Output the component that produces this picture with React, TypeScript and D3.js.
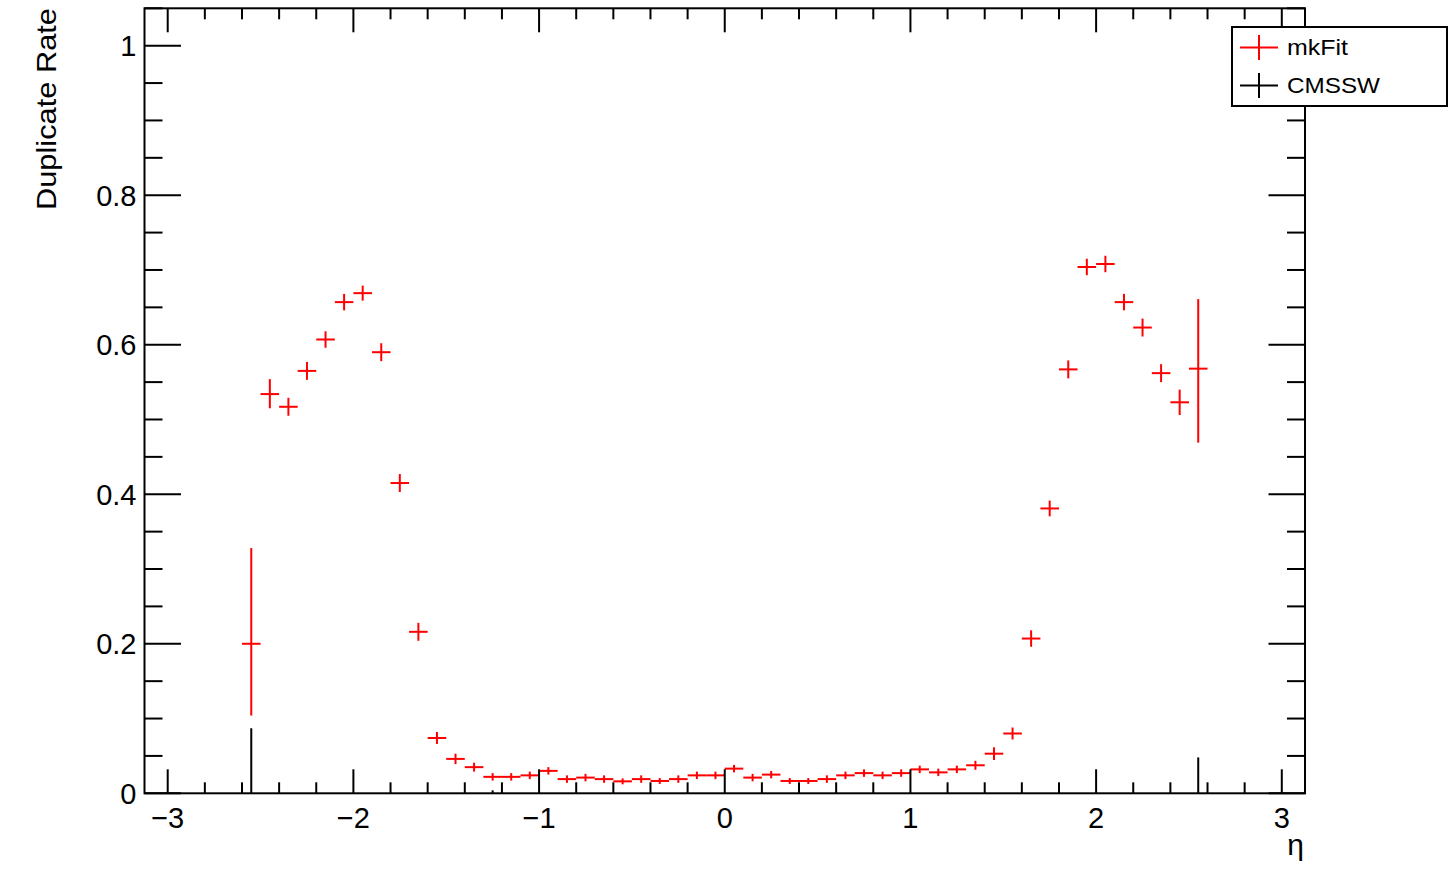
import React from "react";
import * as d3 from "d3";

// ---- data ----
const etaBins = [
  -2.55, -2.45, -2.35, -2.25, -2.15, -2.05, -1.95, -1.85, -1.75, -1.65, -1.55, -1.45, -1.35,
  -1.25, -1.15, -1.05, -0.95, -0.85, -0.75, -0.65, -0.55, -0.45, -0.35, -0.25, -0.15, -0.05,
  0.05, 0.15, 0.25, 0.35, 0.45, 0.55, 0.65, 0.75, 0.85, 0.95, 1.05, 1.15, 1.25, 1.35,
  1.45, 1.55, 1.65, 1.75, 1.85, 1.95, 2.05, 2.15, 2.25, 2.35, 2.45, 2.55,
];
const mkFitRate = [
  0.2, 0.534, 0.517, 0.565, 0.607, 0.657, 0.669, 0.59, 0.415, 0.216, 0.074, 0.046, 0.035,
  0.022, 0.022, 0.024, 0.03, 0.019, 0.021, 0.019, 0.016, 0.019, 0.0165, 0.019, 0.024, 0.024,
  0.033, 0.021, 0.025, 0.0165, 0.0165, 0.019, 0.024, 0.027, 0.024, 0.027, 0.032, 0.028, 0.032, 0.0375,
  0.053, 0.08, 0.207, 0.381, 0.567, 0.704, 0.708, 0.657, 0.623, 0.562, 0.523, 0.568,
];
const mkFitErrLow = [
  0.096, 0.019, 0.012, 0.012, 0.011, 0.011, 0.01, 0.012, 0.012, 0.012, 0.008, 0.007, 0.006,
  0.005, 0.005, 0.005, 0.005, 0.005, 0.005, 0.005, 0.004, 0.005, 0.004, 0.005, 0.005, 0.005,
  0.005, 0.005, 0.005, 0.004, 0.004, 0.005, 0.005, 0.005, 0.005, 0.005, 0.005, 0.005, 0.005, 0.006,
  0.0085, 0.008, 0.011, 0.0105, 0.012, 0.011, 0.011, 0.011, 0.012, 0.012, 0.017, 0.099,
];
const mkFitErrHigh = [
  0.128, 0.02, 0.012, 0.012, 0.011, 0.011, 0.01, 0.012, 0.012, 0.012, 0.008, 0.007, 0.006,
  0.005, 0.005, 0.005, 0.005, 0.005, 0.005, 0.005, 0.004, 0.005, 0.004, 0.005, 0.005, 0.005,
  0.005, 0.005, 0.005, 0.004, 0.004, 0.005, 0.005, 0.005, 0.005, 0.005, 0.005, 0.005, 0.005, 0.006,
  0.0085, 0.008, 0.011, 0.0105, 0.012, 0.011, 0.011, 0.011, 0.012, 0.012, 0.017, 0.093,
];
const cmsswEta = [-2.55, -1.25, 2.55];
const cmsswRate = [0, 0, 0];
const cmsswErrHigh = [0.087, 0.004, 0.048];

const binWidth = 0.1;
const xMajorTicks = [-3, -2, -1, 0, 1, 2, 3];
const xMinorTicks = [-2.8, -2.6, -2.4, -2.2, -1.8, -1.6, -1.4, -1.2, -0.8, -0.6, -0.4, -0.2, 0.2, 0.4, 0.6, 0.8, 1.2, 1.4, 1.6, 1.8, 2.2, 2.4, 2.6, 2.8];
const xTickLabels = ["\u22123", "\u22122", "\u22121", "0", "1", "2", "3"];
const yMajorTicks = [0, 0.2, 0.4, 0.6, 0.8, 1.0];
const yTickLabels = ["0", "0.2", "0.4", "0.6", "0.8", "1"];
const yMinorTicks = [0.05, 0.1, 0.15, 0.25, 0.3, 0.35, 0.45, 0.5, 0.55, 0.65, 0.7, 0.75, 0.85, 0.9, 0.95, 1.05];
const legendLabels = ["mkFit", "CMSSW"];
const legendColors = ["#ff0000", "#000000"];

const FONT = "'Liberation Sans', Arial, Helvetica, sans-serif";

export default function App() {
  const left = 144.5, right = 1305, top = 8.3, bottom = 793.3;
  const x = d3.scaleLinear().domain([-3.125, 3.125]).range([left, right]);
  const y = d3.scaleLinear().domain([0, 1.05]).range([bottom, top]);

  const xMajLen = 24, xMinLen = 11, yMajLen = 36.5, yMinLen = 18;

  return (
    <svg
      width={1450}
      height={893}
      style={{ position: "absolute", left: 0, top: 0, background: "#fff" }}
      fontFamily={FONT}
    >
      <rect x={0} y={0} width={1450} height={893} fill="#fff" />
      {/* CMSSW series (black) */}
      <g stroke="#000" strokeWidth={2}>
        {cmsswEta.map((e, i) => (
          <g key={"c" + i}>
            <line x1={x(e)} x2={x(e)} y1={y(cmsswRate[i] + cmsswErrHigh[i])} y2={y(cmsswRate[i])} />
          </g>
        ))}
      </g>
      {/* mkFit series (red) */}
      <g stroke="#ff0000" strokeWidth={2}>
        {etaBins.map((e, i) => (
          <g key={"m" + i}>
            <line x1={x(e - binWidth / 2)} x2={x(e + binWidth / 2)} y1={y(mkFitRate[i])} y2={y(mkFitRate[i])} />
            <line x1={x(e)} x2={x(e)} y1={y(mkFitRate[i] + mkFitErrHigh[i])} y2={y(mkFitRate[i] - mkFitErrLow[i])} />
          </g>
        ))}
      </g>
      {/* frame */}
      <rect x={left} y={top} width={right - left} height={bottom - top} fill="none" stroke="#000" strokeWidth={2} />
      {/* ticks */}
      <g stroke="#000" strokeWidth={2}>
        {xMajorTicks.map((t) => (
          <g key={"xm" + t}>
            <line x1={x(t)} x2={x(t)} y1={bottom} y2={bottom - xMajLen} />
            <line x1={x(t)} x2={x(t)} y1={top} y2={top + xMajLen} />
          </g>
        ))}
        {xMinorTicks.map((t) => (
          <g key={"xn" + t}>
            <line x1={x(t)} x2={x(t)} y1={bottom} y2={bottom - xMinLen} />
            <line x1={x(t)} x2={x(t)} y1={top} y2={top + xMinLen} />
          </g>
        ))}
        {yMajorTicks.map((t) => (
          <g key={"ym" + t}>
            <line x1={left} x2={left + yMajLen} y1={y(t)} y2={y(t)} />
            <line x1={right} x2={right - yMajLen} y1={y(t)} y2={y(t)} />
          </g>
        ))}
        {yMinorTicks.map((t) => (
          <g key={"yn" + t}>
            <line x1={left} x2={left + yMinLen} y1={y(t)} y2={y(t)} />
            <line x1={right} x2={right - yMinLen} y1={y(t)} y2={y(t)} />
          </g>
        ))}
      </g>
      {/* tick labels */}
      <g fontSize={29} fill="#000">
        {xMajorTicks.map((t, i) => (
          <text key={"xl" + t} x={x(t)} y={828} textAnchor="middle">
            {xTickLabels[i]}
          </text>
        ))}
        {yMajorTicks.map((t, i) => (
          <text key={"yl" + t} x={136.5} y={y(t) + 10.5} textAnchor="end">
            {yTickLabels[i]}
          </text>
        ))}
      </g>
      {/* axis titles */}
      <text
        transform="translate(56,8) rotate(-90)"
        textAnchor="end"
        fontSize={28}
        textLength={202}
        lengthAdjust="spacingAndGlyphs"
      >
        Duplicate Rate
      </text>
      <text x={1304} y={855} textAnchor="end" fontSize={30}>
        η
      </text>
      {/* legend */}
      <rect x={1232} y={27} width={215} height={79} fill="#fff" stroke="#000" strokeWidth={2} />
      {legendLabels.map((lab, i) => {
        const cy = i === 0 ? 47.5 : 85.5;
        return (
          <g key={"lg" + i}>
            <line x1={1240} x2={1278} y1={cy} y2={cy} stroke={legendColors[i]} strokeWidth={2} />
            <line x1={1259} x2={1259} y1={cy - 12.5} y2={cy + 12.5} stroke={legendColors[i]} strokeWidth={2} />
            <text x={1287} y={cy + 7.8} fontSize={22} textLength={lab === "mkFit" ? 61 : 93} lengthAdjust="spacingAndGlyphs">
              {lab}
            </text>
          </g>
        );
      })}
    </svg>
  );
}
